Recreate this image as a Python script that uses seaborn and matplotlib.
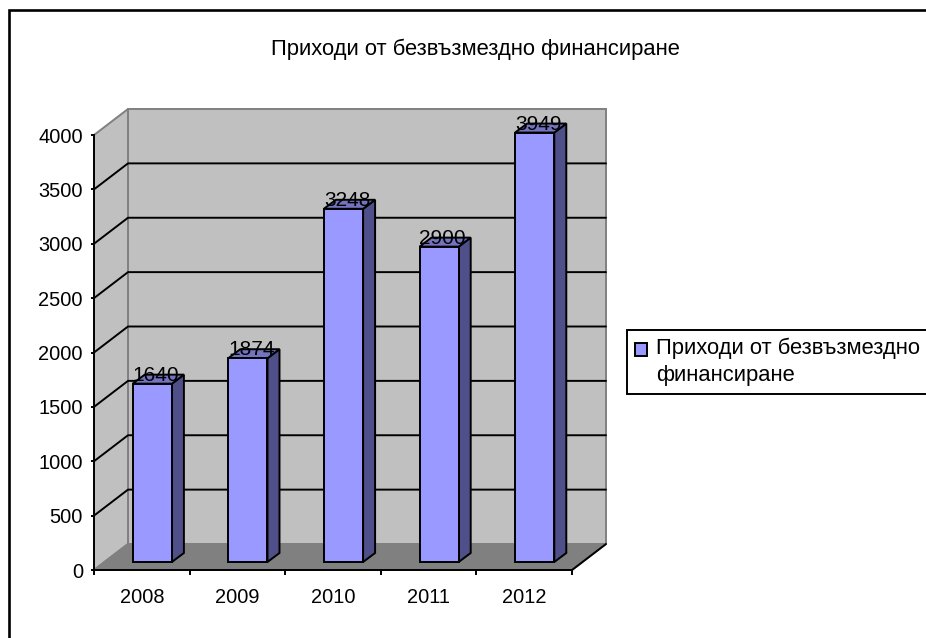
import matplotlib
matplotlib.use('Agg')
import matplotlib.pyplot as plt
import numpy as np
import pandas as pd
import seaborn as sns
from matplotlib.patches import Polygon, Rectangle
from matplotlib.transforms import Affine2D, IdentityTransform

years = ['2008', '2009', '2010', '2011', '2012']
income = [1640, 1874, 3248, 2900, 3949]
y_ticks = [0, 500, 1000, 1500, 2000, 2500, 3000, 3500, 4000]
title = 'Приходи от безвъзмездно финансиране'
series_name = 'Приходи от безвъзмездно\nфинансиране'

W, H = 926, 638
# back wall sits this far from the front axis, in pixels
depth = np.array([34, 26])
# bars stand part way into the floor
bar_shift = np.array([10.5, 8])
bar_depth = np.array([12, 9])
lw = 1.4

sns.set_theme(style='white')
plt.rcParams['font.family'] = ['Liberation Sans', 'DejaVu Sans']
plt.rcParams['font.size'] = 14.4

fig = plt.figure(figsize=(W / 100, H / 100), dpi=100)
ax = fig.add_axes([94 / W, 1 - 570 / H, 478 / W, 435 / H])
ax.patch.set_visible(False)

df = pd.DataFrame({'year': years, 'income': income})
sns.barplot(data=df, x='year', y='income', ax=ax, color='#9999FF', saturation=1,
            width=0.41, edgecolor='black', linewidth=lw, label=series_name, zorder=5)
ax.set_xlim(-0.5, 4.5)
ax.set_ylim(0, 4000)
ax.set_xlabel('')
ax.set_ylabel('')
ax.set_yticks(y_ticks)
ax.set_xticks(np.arange(-0.5, 5), labels=[''] * 6)
ax.set_xticks(range(5), labels=years, minor=True)
ax.tick_params(axis='x', which='major', length=3.5, width=lw, color='black', bottom=True)
ax.tick_params(axis='x', which='minor', length=0, pad=13, labelsize=14.4, labelcolor='black')
ax.tick_params(axis='y', length=2.5, width=lw, color='black', left=True, pad=5.5,
               labelsize=14.4, labelcolor='black')
sns.despine(ax=ax)
for side in ['left', 'bottom']:
    ax.spines[side].set_color('black')
    ax.spines[side].set_linewidth(lw)
    ax.spines[side].set_zorder(6)


def px(x, v, offset=(0, 0)):
    # data position to display pixels, pushed back by offset
    return ax.transData.transform((x, v)) + np.array(offset)


def face(points, **kw):
    ax.add_patch(Polygon(points, closed=True, transform=IdentityTransform(),
                         clip_on=False, **kw))


# walls and floor
face([px(-0.5, 0, depth), px(4.5, 0, depth), px(4.5, 4000, depth), px(-0.5, 4000, depth)],
     facecolor='#C0C0C0', edgecolor='#808080', linewidth=lw, zorder=1)
face([px(-0.5, 0), px(-0.5, 0, depth), px(-0.5, 4000, depth), px(-0.5, 4000)],
     facecolor='#C0C0C0', edgecolor='#808080', linewidth=lw, zorder=1)
face([px(-0.5, 0), px(4.5, 0), px(4.5, 0, depth), px(-0.5, 0, depth)],
     facecolor='#808080', edgecolor='#808080', linewidth=lw, zorder=1)

# grid on back wall and left wall
for v in y_ticks[1:-1]:
    a, b, c = px(-0.5, v), px(-0.5, v, depth), px(4.5, v, depth)
    ax.plot([a[0], b[0], c[0]], [a[1], b[1], c[1]], color='black', linewidth=lw,
            transform=IdentityTransform(), clip_on=False, zorder=2)
a, b = px(4.5, 0), px(4.5, 0, depth)
ax.plot([a[0], b[0]], [a[1], b[1]], color='black', linewidth=lw,
        transform=IdentityTransform(), clip_on=False, zorder=2)

# move the front faces onto the floor, add side and top
shift = Affine2D().translate(*bar_shift)
for bar, value in zip(ax.containers[0], income):
    bar.set_transform(ax.transData + shift)
    bar.set_clip_on(False)
    x0, x1 = bar.get_x(), bar.get_x() + bar.get_width()
    h = bar.get_height()
    bl = bar_shift
    tr = bar_shift + bar_depth
    face([px(x1, 0, bl), px(x1, 0, tr), px(x1, h, tr), px(x1, h, bl)],
         facecolor='#4F4F8A', edgecolor='black', linewidth=lw, zorder=4)
    face([px(x0, h, bl), px(x1, h, bl), px(x1, h, tr), px(x0, h, tr)],
         facecolor='#7373BF', edgecolor='black', linewidth=lw, zorder=4)
    ax.annotate(str(value), xy=((x0 + x1) / 2, h), xytext=(14, 11), textcoords='offset pixels',
                ha='center', va='baseline', fontsize=15, color='black', zorder=7,
                annotation_clip=False)

fig.text(475 / W, 1 - 49 / H, title, ha='center', va='center', fontsize=15.8, color='black')

# outer chart frame, runs off the right and bottom of the picture
fig.add_artist(Rectangle((8.5 / W, -0.1), 2, 1.1 - 10.5 / H, fill=False, edgecolor='black',
                         linewidth=1.9, transform=fig.transFigure))

leg = ax.legend(loc='upper left', bbox_to_anchor=(627 / W, 1 - 330 / H), bbox_transform=fig.transFigure,
                frameon=True, fancybox=False, edgecolor='black', framealpha=1, fontsize=15.8,
                handlelength=0.55, handleheight=0.55, handletextpad=0.42, borderaxespad=0,
                borderpad=0.35, labelcolor='black')
leg.get_frame().set_linewidth(lw)
for text in leg.get_texts():
    text.set_linespacing(1.4)
# swatch lines up with the first text line
handle = leg.legend_handles[0]
handle.set_y(handle.get_y() + 9)

fig.savefig('out.png', dpi=100)
